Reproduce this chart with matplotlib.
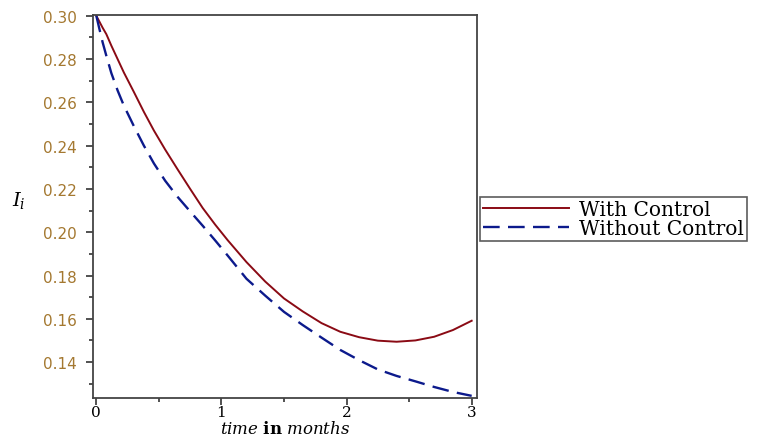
import matplotlib
matplotlib.use("Agg")
import matplotlib.pyplot as plt
from matplotlib.ticker import MultipleLocator

plt.rcParams['mathtext.fontset'] = 'dejavuserif'
plt.rcParams['lines.scale_dashes'] = False

# time in months
t = [0.0, 0.02, 0.05, 0.08, 0.12, 0.17, 0.22, 0.30, 0.38, 0.46, 0.55, 0.65,
     0.75, 0.85, 0.95, 1.05, 1.20, 1.35, 1.50, 1.65, 1.80, 1.95, 2.10, 2.25,
     2.40, 2.55, 2.70, 2.85, 3.0]
with_control = [0.3000, 0.2978, 0.2945, 0.2915, 0.2862, 0.2800, 0.2738,
                0.2648, 0.2556, 0.2470, 0.2382, 0.2290, 0.2200, 0.2112,
                0.2035, 0.1963, 0.1862, 0.1772, 0.1694, 0.1634, 0.1580,
                0.1540, 0.1515, 0.1499, 0.1494, 0.1500, 0.1517, 0.1548,
                0.1591]
without_control = [0.3000, 0.2950, 0.2878, 0.2815, 0.2735, 0.2655, 0.2585,
                   0.2490, 0.2400, 0.2318, 0.2238, 0.2163, 0.2096, 0.2030,
                   0.1962, 0.1892, 0.1785, 0.1707, 0.1632, 0.1571, 0.1513,
                   0.1456, 0.1409, 0.1366, 0.1336, 0.1311, 0.1285, 0.1262,
                   0.1244]
labels = ["With Control", "Without Control"]
yticks = [0.14, 0.16, 0.18, 0.20, 0.22, 0.24, 0.26, 0.28, 0.30]
xticks = [0, 1, 2, 3]

fig = plt.figure(figsize=(7.57, 4.39), dpi=100)
ax = fig.add_axes([0.1233, 0.0911, 0.5064, 0.8731])

ax.plot(t, with_control, color='#8a0a14', lw=1.4, label=labels[0])
ax.plot(t, without_control, color='#0c1a8c', lw=1.7, linestyle=(0, (12, 6)),
        label=labels[1])

ax.set_xlim(-0.024, 3.04)
ax.set_ylim(0.1234, 0.3005)

ax.set_xticks(xticks)
ax.set_xticklabels([str(v) for v in xticks], fontfamily='DejaVu Serif', fontsize=11)
ax.xaxis.set_minor_locator(MultipleLocator(0.5))
ax.set_yticks(yticks)
ax.set_yticklabels(["%.2f" % v for v in yticks], fontfamily='DejaVu Sans',
                   fontsize=11, color='#a47830')
ax.yaxis.set_minor_locator(MultipleLocator(0.01))
ax.tick_params(which='major', direction='out', length=5, width=1.2, color='#333333')
ax.tick_params(which='minor', direction='out', length=3, width=1.2, color='#333333')
ax.tick_params(axis='y', pad=7)
ax.tick_params(axis='x', pad=0)

for s in ax.spines.values():
    s.set_linewidth(1.3)
    s.set_color('#444444')

ax.set_xlabel(r'$\mathit{time}\ \mathbf{in}\ \mathit{months}$', fontsize=12)
ax.xaxis.label.set_va('center')
ax.xaxis.set_label_coords(0.5, -0.078)
ax.set_ylabel(r'$I_i$', fontsize=14, rotation=0)
ax.yaxis.set_label_coords(-0.195, 0.49)

leg = ax.legend(loc='center left', bbox_to_anchor=(1.0, 0.468), frameon=True,
                fancybox=False, edgecolor='#333333', handlelength=4.3,
                borderpad=0.15, labelspacing=0.0, handletextpad=0.5,
                borderaxespad=0.15,
                prop={'family': 'DejaVu Serif', 'size': 14.5})
leg.get_frame().set_linewidth(1.2)

fig.savefig('out.png', dpi=100)
